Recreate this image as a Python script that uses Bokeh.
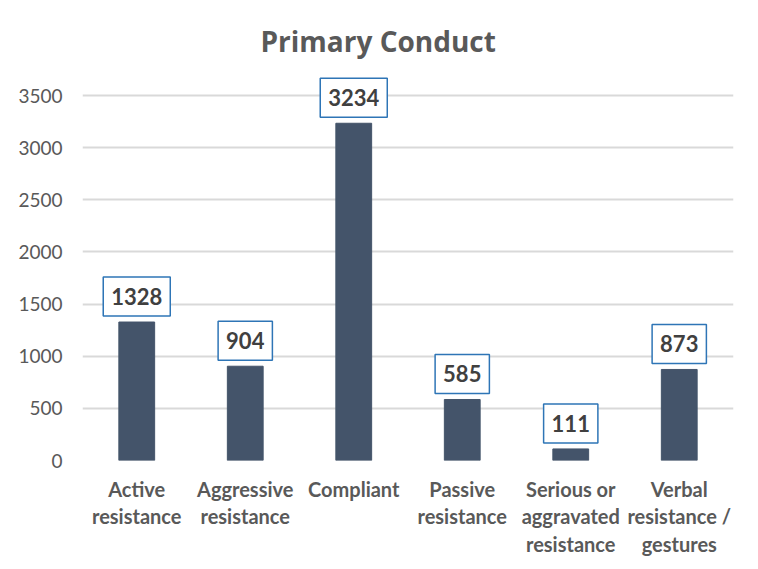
from bokeh.plotting import figure
from bokeh.models import ColumnDataSource, Range1d, FixedTicker
from bokeh.core.properties import value
from bokeh.embed import file_html
from bokeh.resources import INLINE

categories = ["Active\nresistance", "Aggressive\nresistance", "Compliant",
              "Passive\nresistance", "Serious or\naggravated\nresistance",
              "Verbal\nresistance /\ngestures"]
counts = [1328, 904, 3234, 585, 111, 873]
y_ticks = [0, 500, 1000, 1500, 2000, 2500, 3000, 3500]

src = ColumnDataSource(dict(cat=categories, val=counts,
                            lbl=[str(v) for v in counts]))

p = figure(x_range=categories, y_range=Range1d(0, 3692),
           width=758, height=569, output_backend="svg", toolbar_location=None,
           min_border_left=82, min_border_right=25, min_border_top=75,
           min_border_bottom=109)

p.title.text = "Primary Conduct"
p.title.align = "left"
p.title.offset = 178
p.title.text_font = "Open Sans"
p.title.text_font_size = "28px"
p.title.text_font_style = "bold"
p.title.text_color = "#595959"
p.title.standoff = 32

p.vbar(x="cat", top="val", width=0.33, source=src, color="#44546A")

p.text(x="cat", y="val", text="lbl", source=src,
       text_font=value("Lato"), text_font_size="22px", text_font_style="bold",
       text_color="#404040", text_align="center", text_baseline="bottom",
       anchor="bottom_center", y_offset=-6,
       padding=dict(left=8, right=8, top=11, bottom=11),
       background_fill_color="white", border_line_color="#2E75B6",
       border_line_width=1.5)

p.outline_line_color = None
p.xgrid.grid_line_color = None
p.ygrid.grid_line_color = "#D9D9D9"
p.ygrid.grid_line_width = 2

p.yaxis.ticker = FixedTicker(ticks=y_ticks)
p.yaxis.axis_line_color = None
p.yaxis.major_tick_line_color = None
p.yaxis.minor_tick_line_color = None
p.yaxis.major_tick_out = 0
p.yaxis.major_label_standoff = 20
p.yaxis.major_label_text_font = "Lato"
p.yaxis.major_label_text_font_size = "19px"
p.yaxis.major_label_text_color = "#595959"

p.xaxis.axis_line_color = None
p.xaxis.major_tick_line_color = None
p.xaxis.major_tick_out = 0
p.xaxis.major_label_standoff = 16
p.xaxis.major_label_text_font = "Lato"
p.xaxis.major_label_text_font_size = "20px"
p.xaxis.major_label_text_font_style = "bold"
p.xaxis.major_label_text_color = "#595959"
p.xaxis.major_label_text_line_height = 1.15

open("out.html", "w").write(file_html(p, INLINE))
